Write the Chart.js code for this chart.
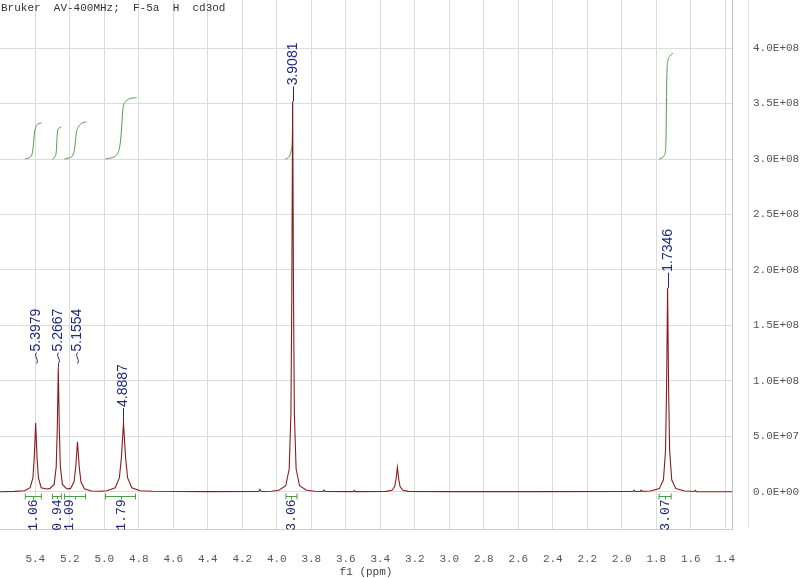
<!DOCTYPE html>
<html>
<head>
<meta charset="utf-8">
<title>F-5a 1H NMR</title>
<script src="https://cdn.jsdelivr.net/npm/chart.js@4.4.1/dist/chart.umd.min.js"></script>
<style>
  html, body { margin: 0; padding: 0; background: #fff; }
  canvas { display: block; }
</style>
</head>
<body>
<canvas id="nmr" width="800" height="578"></canvas>
<script>
'use strict';

//***********Data***********
let headerText = 'Bruker  AV-400MHz;  F-5a  H  cd3od';
let axisTitle = 'f1 (ppm)';

let xTickValues = [5.4, 5.2, 5.0, 4.8, 4.6, 4.4, 4.2, 4.0, 3.8, 3.6, 3.4, 3.2, 3.0, 2.8, 2.6, 2.4, 2.2, 2.0, 1.8, 1.6, 1.4];
let xTickLabels = ['5.4', '5.2', '5.0', '4.8', '4.6', '4.4', '4.2', '4.0', '3.8', '3.6', '3.4', '3.2', '3.0', '2.8', '2.6', '2.4', '2.2', '2.0', '1.8', '1.6', '1.4'];

// intensity in units of 1E+08
let yTickValues = [0, 0.5, 1.0, 1.5, 2.0, 2.5, 3.0, 3.5, 4.0];
let yTickLabels = ['0.0E+00', '5.0E+07', '1.0E+08', '1.5E+08', '2.0E+08', '2.5E+08', '3.0E+08', '3.5E+08', '4.0E+08'];

// spectrum trace: [ppm, intensity]
let spectrumPoints = [
  [5.605, 0], [5.52, 0.003],
  // 5.3979
  [5.4619, 0.0095], [5.4299, 0.036], [5.4139, 0.124], [5.4059, 0.31],
  [5.3979, 0.62], [5.3899, 0.31], [5.3819, 0.124], [5.3659, 0.036],
  [5.332, 0.025],
  // 5.2667
  [5.3147, 0.03], [5.2907, 0.066], [5.2787, 0.224], [5.2727, 0.56],
  [5.2667, 1.12], [5.2607, 0.56], [5.2547, 0.224], [5.2427, 0.066],
  [5.22, 0.03], [5.211, 0.026],
  // 5.1554
  [5.1954, 0.03], [5.1754, 0.09], [5.1654, 0.225],
  [5.1554, 0.45], [5.1454, 0.225], [5.1354, 0.09], [5.1154, 0.0265],
  [5.0754, 0.007], [5.03, 0.005],
  // 4.8887
  [4.9847, 0.0095], [4.9367, 0.036], [4.9127, 0.124], [4.9007, 0.31],
  [4.8887, 0.62], [4.8767, 0.31], [4.8647, 0.124], [4.8407, 0.036],
  [4.7927, 0.0095], [4.72, 0.004], [4.40, 0.001],
  // small bump 4.10
  [4.105, 0.002], [4.098, 0.022], [4.091, 0.002], [4.03, 0.004],
  // 3.9081
  [3.9881, 0.014], [3.9481, 0.054], [3.9281, 0.207], [3.9181, 0.704], [3.9131, 1.76],
  [3.9081, 3.52], [3.9031, 1.76], [3.8981, 0.704], [3.8881, 0.207], [3.8681, 0.054], [3.8281, 0.014],
  [3.78, 0.004],
  // small bumps 3.73 / 3.55
  [3.732, 0.002], [3.726, 0.016], [3.720, 0.002], [3.557, 0.001], [3.551, 0.012], [3.545, 0.001],
  // solvent 3.30
  [3.365, 0.0034], [3.333, 0.013], [3.317, 0.044], [3.309, 0.11],
  [3.301, 0.22], [3.293, 0.11], [3.285, 0.044], [3.269, 0.013], [3.237, 0.0034],
  [3.0, 0.001], [2.5, 0.001],
  // small bumps 1.93 / 1.89
  [1.935, 0.002], [1.929, 0.015], [1.923, 0.002], [1.894, 0.002], [1.888, 0.015], [1.882, 0.003],
  // 1.7346
  [1.8346, 0.0066], [1.7826, 0.028], [1.7586, 0.108], [1.7466, 0.368], [1.7406, 0.92],
  [1.7346, 1.84], [1.7286, 0.92], [1.7226, 0.368], [1.7106, 0.108], [1.6866, 0.028], [1.6346, 0.0066],
  // small bump 1.57
  [1.580, 0.002], [1.574, 0.012], [1.568, 0.001],
  [1.361, 0]
];

let peakShifts = [5.3979, 5.2667, 5.1554, 4.8887, 3.9081, 1.7346];
let peakLabels = ['5.3979', '5.2667', '5.1554', '4.8887', '3.9081', '1.7346'];

let integralValues = ['1.06', '0.94', '1.09', '1.79', '3.06', '3.07'];
let integralFrom = [5.458, 5.301, 5.231, 4.993, 3.947, 1.784];
let integralTo = [5.365, 5.249, 5.109, 4.819, 3.883, 1.714];

// integral curves: [ppm, intensity]
let integralCurves = [
  [[5.458, 3.002], [5.435, 3.011], [5.423, 3.029], [5.415, 3.074], [5.409, 3.164], [5.403, 3.254], [5.394, 3.299], [5.383, 3.317], [5.365, 3.326]],
  [[5.301, 3.0], [5.287, 3.02], [5.278, 3.074], [5.275, 3.164], [5.272, 3.236], [5.266, 3.272], [5.249, 3.29]],
  [[5.231, 3.0], [5.202, 3.011], [5.185, 3.029], [5.173, 3.083], [5.167, 3.164], [5.162, 3.236], [5.150, 3.29], [5.133, 3.321], [5.103, 3.335]],
  [[4.993, 3.0], [4.958, 3.011], [4.929, 3.038], [4.912, 3.101], [4.903, 3.209], [4.897, 3.344], [4.892, 3.452], [4.877, 3.515], [4.853, 3.544], [4.813, 3.553]],
  [[3.952, 3.0], [3.935, 3.011], [3.923, 3.038], [3.915, 3.092], [3.909, 3.254], [3.908, 3.50]],
  [[1.784, 3.0], [1.767, 3.011], [1.755, 3.029], [1.747, 3.074], [1.744, 3.164], [1.741, 3.524], [1.738, 3.793], [1.733, 3.883], [1.721, 3.928], [1.703, 3.955]]
];

//***********Styles***********
let traceColor = '#8c1c1c';
let integralColor = '#4a9e4a';
let labelColor = '#1f2a7a';
let gridColor = '#dcdcdc';
let monoFont = '"Liberation Mono", "DejaVu Sans Mono", monospace';

//***********Helper functions***********
function peakTop(ppm) {
  let top = 0;
  spectrumPoints.forEach(function (p) {
    if (Math.abs(p[0] - ppm) < 0.003 && p[1] > top) top = p[1];
  });
  return top;
}

function toXY(list) {
  return list.map(function (p) { return { x: p[0], y: p[1] }; });
}

// no extra padding for the edge labels
function noPadding(scale) {
  scale.paddingTop = 0;
  scale.paddingBottom = 0;
  scale.paddingLeft = 0;
  scale.paddingRight = 0;
}

// labels, integral brackets and text drawn on top of the chart
const nmrDecor = {
  id: 'nmrDecor',
  afterDraw(chart) {
    const ctx = chart.ctx;
    const xs = chart.scales.x;
    const ys = chart.scales.y;
    const area = chart.chartArea;
    ctx.save();

    ctx.font = '11px ' + monoFont;
    ctx.fillStyle = '#333';
    ctx.textBaseline = 'middle';
    ctx.textAlign = 'left';
    ctx.fillText(headerText, 1, 8);

    ctx.textAlign = 'center';
    ctx.fillStyle = '#444';
    ctx.fillText(axisTitle, (area.left + area.right) / 2, 572);

    // faint axis line of the intensity scale
    ctx.strokeStyle = '#e6e6e6';
    ctx.lineWidth = 1;
    ctx.beginPath();
    ctx.moveTo(748.5, 0);
    ctx.lineTo(748.5, area.bottom);
    ctx.stroke();

    // peak labels, grouped when close together
    let groups = [];
    peakShifts.forEach(function (s, i) {
      let last = groups[groups.length - 1];
      if (last && peakShifts[last[last.length - 1]] - s < 0.2) last.push(i);
      else groups.push([i]);
    });

    ctx.font = '14px "Liberation Sans", Arial, sans-serif';
    ctx.fillStyle = labelColor;
    ctx.strokeStyle = labelColor;
    groups.forEach(function (g) {
      let tips = g.map(function (i) { return ys.getPixelForValue(peakTop(peakShifts[i])); });
      let level = Math.min.apply(null, tips) - 15;
      g.forEach(function (i, k) {
        let x = Math.round(xs.getPixelForValue(peakShifts[i])) + 0.5;
        ctx.save();
        ctx.translate(x, level);
        ctx.rotate(-Math.PI / 2);
        ctx.textAlign = 'left';
        ctx.textBaseline = 'middle';
        ctx.fillText(peakLabels[i], 1, 0);
        ctx.restore();

        ctx.beginPath();
        ctx.moveTo(x, level);
        if (g.length > 1) {
          ctx.bezierCurveTo(x - 3, level + 4, x + 3, level + 7, x, level + 11);
          if (tips[k] - (level + 11) < 10) ctx.lineTo(x, tips[k]);
        } else {
          ctx.lineTo(x, tips[k]);
        }
        ctx.stroke();
      });
    });

    // integral brackets and values
    const by = Math.round(ys.getPixelForValue(0)) + 4.5;
    const nudge = { 2: -6 };
    ctx.font = '13px ' + monoFont;
    integralFrom.forEach(function (f, i) {
      let x1 = xs.getPixelForValue(f);
      let x2 = xs.getPixelForValue(integralTo[i]);
      let mid = Math.round((x1 + x2) / 2) + 0.5;
      ctx.strokeStyle = integralColor;
      ctx.beginPath();
      ctx.moveTo(x1, by); ctx.lineTo(x2, by);
      ctx.moveTo(x1, by - 3); ctx.lineTo(x1, by + 3);
      ctx.moveTo(x2, by - 3); ctx.lineTo(x2, by + 3);
      ctx.moveTo(mid, by); ctx.lineTo(mid, by + 3);
      ctx.stroke();

      ctx.save();
      ctx.fillStyle = labelColor;
      ctx.translate(mid + (nudge[i] || 0), by + 3);
      ctx.rotate(-Math.PI / 2);
      ctx.textAlign = 'right';
      ctx.textBaseline = 'middle';
      ctx.fillText(integralValues[i], 0, 0);
      ctx.restore();
    });

    ctx.restore();
  }
};

//***********Chart***********
let datasets = [{
  data: toXY(spectrumPoints),
  borderColor: traceColor,
  borderWidth: 1.1,
  pointRadius: 0,
  tension: 0
}];
integralCurves.forEach(function (c) {
  datasets.push({
    data: toXY(c),
    borderColor: integralColor,
    borderWidth: 1,
    pointRadius: 0,
    tension: 0.4,
    cubicInterpolationMode: 'monotone'
  });
});

let ctx = document.getElementById('nmr').getContext('2d');
new Chart(ctx, {
  type: 'line',
  data: { datasets: datasets },
  options: {
    responsive: false,
    animation: false,
    devicePixelRatio: 1,
    layout: { padding: 0, autoPadding: false },
    plugins: { legend: { display: false }, tooltip: { enabled: false } },
    scales: {
      x: {
        type: 'linear',
        reverse: true,
        min: 1.3612,
        max: 5.6046,
        afterBuildTicks: function (scale) {
          scale.ticks = xTickValues.map(function (v) { return { value: v }; });
        },
        afterFit: function (scale) { scale.height = 49; noPadding(scale); },
        grid: { color: gridColor, drawTicks: false },
        border: { display: true, color: '#cfcfcf' },
        ticks: {
          autoSkip: false,
          maxRotation: 0,
          padding: 23,
          color: '#555',
          font: { family: monoFont, size: 11 },
          callback: function (value, index) { return xTickLabels[index]; }
        }
      },
      y: {
        position: 'right',
        min: -0.336,
        max: 4.434,
        afterBuildTicks: function (scale) {
          scale.ticks = yTickValues.map(function (v) { return { value: v }; });
        },
        afterFit: function (scale) { scale.width = 68; noPadding(scale); },
        grid: { color: gridColor, drawTicks: false },
        border: { display: true, color: '#c4c4c4' },
        ticks: {
          padding: 21,
          color: '#555',
          font: { family: monoFont, size: 11 },
          callback: function (value, index) { return yTickLabels[index]; }
        }
      }
    }
  },
  plugins: [nmrDecor]
});
</script>
</body>
</html>
